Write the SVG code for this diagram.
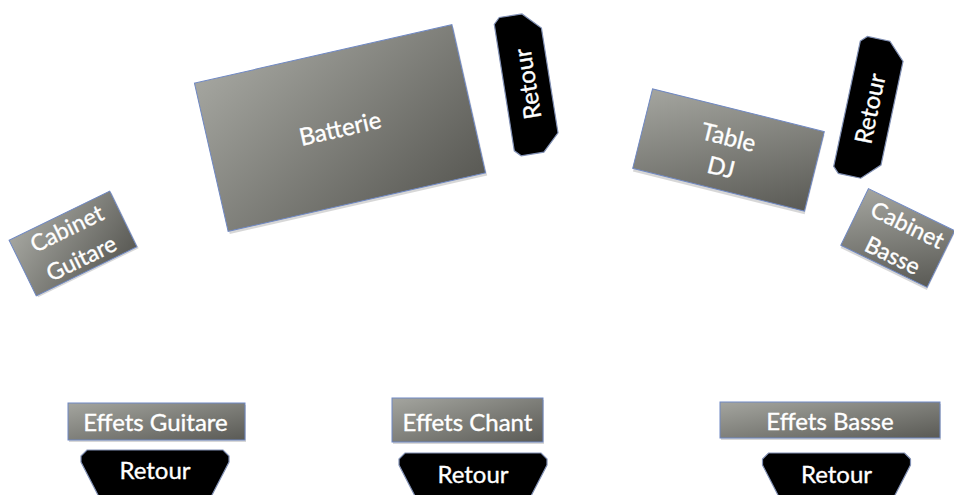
<svg xmlns="http://www.w3.org/2000/svg" width="954" height="495" viewBox="0 0 954 495">
<defs>
<linearGradient id="gr" x1="0" y1="0" x2="1" y2="1">
<stop offset="0" stop-color="#a4a59f"/>
<stop offset="1" stop-color="#5a5a55"/>
</linearGradient>
<path id="retR" d="M-64,-23 H64 L70,-17 V6 L53,23 H-53 L-70,6 V-17 Z"/>
<path id="retB" d="M-68,-23 H68 L74,-17 V-11 L56,24 H-56 L-74,-11 V-17 Z"/>
<style>
.box{fill:url(#gr);stroke:#6f88c3;stroke-width:1}
.sh{fill:#8c8c8c;opacity:.35}
.ret{fill:#000;stroke:#8190b4;stroke-width:1.2}
.t{font-family:Lato,"Liberation Sans",sans-serif;fill:#fff;stroke:#fff;stroke-width:0.35;text-anchor:middle}
</style>
</defs>
<rect width="954" height="495" fill="#fff"/>
<g id="connectors"/>

<g id="batterie" transform="translate(340,128) rotate(-12.8)">
<rect class="sh" x="-131" y="-73" width="264" height="152"/>
<rect class="box" x="-132" y="-76" width="264" height="152"/>
<text class="t" x="0" y="9" font-size="24">Batterie</text>
</g>

<g id="retour-batterie" transform="translate(527,84) rotate(-99)">
<use href="#retR" class="ret"/>
<text class="t" x="0" y="9" font-size="24">Retour</text>
</g>

<g id="table-dj" transform="translate(728.5,150) rotate(14)">
<rect class="sh" x="-87.5" y="-38" width="177" height="82"/>
<rect class="box" x="-88.5" y="-41" width="177" height="82"/>
<text class="t" x="-3" y="-4" font-size="24">Table</text>
<text class="t" x="-3" y="27" font-size="24">DJ</text>
</g>

<g id="retour-dj" transform="translate(869.5,108.5) rotate(-78)">
<use href="#retR" class="ret"/>
<text class="t" x="0" y="9" font-size="24">Retour</text>
</g>

<g id="cabinet-basse" transform="translate(897.75,238) rotate(26)">
<rect class="sh" x="-47" y="-29" width="96" height="63"/>
<rect class="box" x="-48" y="-31.5" width="96" height="63"/>
<text class="t" x="3" y="-8" font-size="23">Cabinet</text>
<text class="t" x="3" y="26" font-size="23">Basse</text>
</g>

<g id="cabinet-guitare" transform="translate(73,243.5) rotate(-26)">
<rect class="sh" x="-55" y="-29" width="112" height="62"/>
<rect class="box" x="-56" y="-31" width="112" height="62"/>
<text class="t" x="1" y="-8" font-size="23">Cabinet</text>
<text class="t" x="1" y="25" font-size="23">Guitare</text>
</g>

<g id="effets-guitare">
<rect class="sh" x="69" y="405" width="177" height="37"/>
<rect class="box" x="68" y="403" width="177" height="37"/>
<text class="t" x="155.5" y="431" font-size="24">Effets Guitare</text>
</g>

<g id="effets-chant">
<rect class="sh" x="393" y="400" width="151" height="44"/>
<rect class="box" x="392" y="398" width="151" height="44"/>
<text class="t" x="467.5" y="431" font-size="24">Effets Chant</text>
</g>

<g id="effets-basse">
<rect class="sh" x="721" y="404" width="220" height="36"/>
<rect class="box" x="720" y="402" width="220" height="36"/>
<text class="t" x="830" y="430" font-size="24">Effets Basse</text>
</g>

<g id="retour-guitare" transform="translate(155,473)">
<use href="#retB" class="ret"/>
<text class="t" x="0" y="6" font-size="24">Retour</text>
</g>

<g id="retour-chant" transform="translate(473,476)">
<use href="#retB" class="ret"/>
<text class="t" x="0" y="7" font-size="24">Retour</text>
</g>

<g id="retour-basse" transform="translate(836.5,476)">
<use href="#retB" class="ret"/>
<text class="t" x="0" y="7" font-size="24">Retour</text>
</g>
</svg>
